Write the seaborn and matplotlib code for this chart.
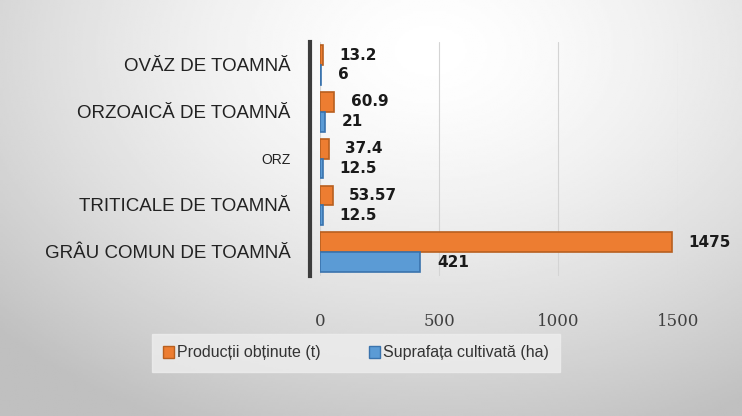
import numpy as np
import pandas as pd
import matplotlib
matplotlib.use("Agg")
import matplotlib.pyplot as plt
from matplotlib.patches import Patch
import seaborn as sns

# Chart data
categories = ["OVĂZ DE TOAMNĂ", "ORZOAICĂ DE TOAMNĂ", "ORZ",
              "TRITICALE DE TOAMNĂ", "GRÂU COMUN DE TOAMNĂ"]
productie = [13.2, 60.9, 37.4, 53.57, 1475]
suprafata = [6, 21, 12.5, 12.5, 421]
series_names = ["Producții obținute (t)", "Suprafața cultivată (ha)"]
x_ticks = [0, 500, 1000, 1500]

colors = ["#ED7D31", "#5B9BD5"]
edges = ["#B85F1F", "#3A73AD"]

df = pd.DataFrame({
    "cultura": categories * 2,
    "valoare": productie + suprafata,
    "serie": [series_names[0]] * len(categories) + [series_names[1]] * len(categories),
})

sns.set_theme(style="white")
plt.rcParams["font.family"] = ["Liberation Sans", "DejaVu Sans"]

fig = plt.figure(figsize=(7.42, 4.16), dpi=100)

# gradient background (white near top middle, grey towards edges)
bg = fig.add_axes([0, 0, 1, 1], zorder=-10)
yy, xx = np.mgrid[0:1:200j, 0:1:360j]
r = np.sqrt(((xx - 0.58) / 0.8) ** 2 + ((yy - 0.12) / 1.0) ** 2)
bg.imshow(1 - 0.25 * np.clip(r, 0, 1) ** 1.5, cmap="gray", vmin=0, vmax=1,
          aspect="auto", extent=[0, 1, 0, 1], interpolation="bilinear")
bg.set_axis_off()

ax = fig.add_axes([0.431, 0.3375, 0.4825, 0.5625])
ax.patch.set_alpha(0)

sns.barplot(data=df, y="cultura", x="valoare", hue="serie", order=categories,
            hue_order=series_names, palette=colors, saturation=1, orient="h",
            width=0.85, ax=ax, legend=False)

for cont, ec in zip(ax.containers, edges):
    for bar in cont:
        bar.set_edgecolor(ec)
        bar.set_linewidth(1.2)
    ax.bar_label(cont, labels=[f"{b.get_width():g}" for b in cont], padding=12,
                 fontsize=11, fontweight="bold", color="#1a1a1a",
                 family="DejaVu Sans", clip_on=False)

ax.set_xlim(0, 1500)
ax.set_ylim(4.5, -0.5)
ax.tick_params(axis="x", length=0, pad=27)
ax.tick_params(axis="y", length=0, pad=17)
ax.set_xticks(x_ticks)
ax.set_xticklabels([str(t) for t in x_ticks], family="DejaVu Serif",
                   fontsize=12, color="#404040")
ax.set_yticks(range(len(categories)))
ax.set_yticklabels([])
ytrans = ax.get_yaxis_transform()
for i, name in enumerate(categories):
    ax.annotate(name, xy=(0, i), xycoords=ytrans, xytext=(-21, -1),
                textcoords="offset points", ha="right", va="center",
                fontsize=10 if name == "ORZ" else 13.5, color="#222222")
ax.set_xlabel("")
ax.set_ylabel("")

ax.xaxis.grid(True, color="#d4d4d4", linewidth=0.8)
ax.set_axisbelow(True)
for side in ["top", "right", "bottom"]:
    ax.spines[side].set_visible(False)
ax.spines["left"].set_position(("outward", 7))
ax.spines["left"].set_color("#3c3c3c")
ax.spines["left"].set_linewidth(3)

handles = [Patch(facecolor=c, edgecolor=e, label=n) for c, e, n in zip(colors, edges, series_names)]
leg = fig.legend(handles=handles, loc="center", ncol=2,
                 bbox_to_anchor=(356 / 742, 1 - 353 / 416),
                 fontsize=11.5, handlelength=0.7, handleheight=0.7,
                 handletextpad=0.2, columnspacing=3.0, frameon=True,
                 fancybox=False, borderpad=0.7)
leg.get_frame().set_facecolor("#eeeeee")
leg.get_frame().set_edgecolor("#eeeeee")
for t in leg.get_texts():
    t.set_color("#333333")

fig.savefig("out.png", dpi=100)
